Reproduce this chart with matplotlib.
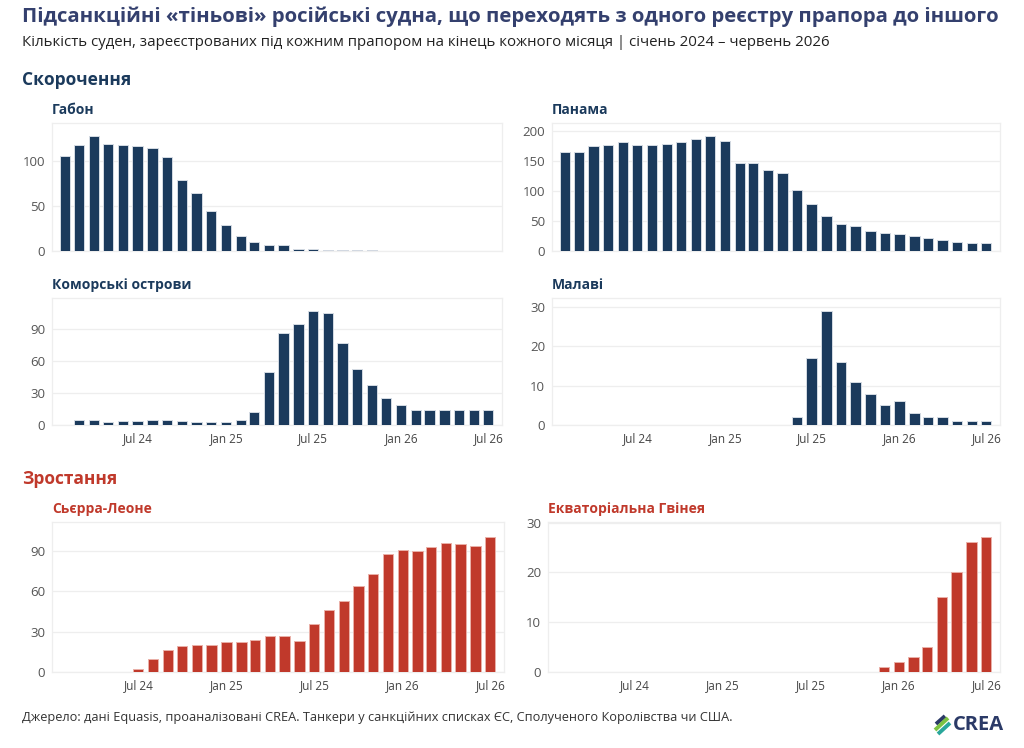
import matplotlib
matplotlib.use("Agg")
import matplotlib.pyplot as plt
from matplotlib.lines import Line2D
import pandas as pd

plt.rcParams['font.family'] = ['Open Sans', 'DejaVu Sans']

# ---------------- data ----------------
months = pd.date_range('2024-01-31', periods=30, freq='ME')  # month-end, Jan 2024 .. Jun 2026

gabon = [105, 117, 127, 118, 117, 116, 114, 104, 78, 64, 44, 29,
         17, 10, 7, 7, 2, 2, 1, 1, 1, 1, 0, 0,
         0, 0, 0, 0, 0, 0]
panama = [165, 165, 175, 178, 182, 178, 178, 179, 182, 187, 192, 184,
          148, 148, 135, 131, 102, 78, 58, 45, 42, 34, 30, 28,
          25, 22, 18, 15, 14, 13]
comoros = [0, 5, 5, 3, 4, 4, 5, 5, 4, 3, 3, 3,
           5, 12, 50, 86, 95, 107, 105, 77, 53, 38, 25, 19,
           14, 14, 14, 14, 14, 14]
malawi = [0, 0, 0, 0, 0, 0, 0, 0, 0, 0, 0, 0,
          0, 0, 0, 0, 2, 17, 29, 16, 11, 8, 5, 6,
          3, 2, 2, 1, 1, 1]
sierra_leone = [0, 0, 0, 0, 0, 2, 10, 16, 19, 20, 20, 22,
                22, 24, 27, 27, 23, 36, 46, 53, 64, 73, 88, 91,
                90, 93, 96, 95, 94, 100]
eq_guinea = [0, 0, 0, 0, 0, 0, 0, 0, 0, 0, 0, 0,
             0, 0, 0, 0, 0, 0, 0, 0, 0, 0, 1, 2,
             3, 5, 15, 20, 26, 27]

yticks_gabon = [0, 50, 100]
yticks_panama = [0, 50, 100, 150, 200]
yticks_comoros = [0, 30, 60, 90]
yticks_malawi = [0, 10, 20, 30]
yticks_sierra = [0, 30, 60, 90]
yticks_eqg = [0, 10, 20, 30]

xtick_dates = pd.to_datetime(['2024-07-01', '2025-01-01', '2025-07-01', '2026-01-01', '2026-07-01'])
xtick_labels = ['Jul 24', 'Jan 25', 'Jul 25', 'Jan 26', 'Jul 26']

title = 'Підсанкційні «тіньові» російські судна, що переходять з одного реєстру прапора до іншого'
subtitle = 'Кількість суден, зареєстрованих під кожним прапором на кінець кожного місяця | січень 2024 – червень 2026'
sec_down = 'Скорочення'
sec_up = 'Зростання'
footer = 'Джерело: дані Equasis, проаналізовані CREA. Танкери у санкційних списках ЄС, Сполученого Королівства чи США.'

NAVY = '#1b3a5c'
RED = '#c0392b'
TITLE_C = '#34406e'

# ---------------- figure ----------------
W, H = 1024, 748
fig = plt.figure(figsize=(W / 100, H / 100), dpi=100)
fig.patch.set_facecolor('white')


def rect(l, t, r, b):
    return [l / W, 1 - b / H, (r - l) / W, (b - t) / H]


def ftext(x, y, s, **kw):
    fig.text(x / W, 1 - y / H, s, **kw)


xlim = (pd.Timestamp('2024-01-04'), pd.Timestamp('2026-07-29'))


def panel(box, values, yticks, color, name, name_xy, show_x):
    ax = fig.add_axes(rect(*box))
    ax.bar(months, values, width=21.5, color=color,
           edgecolor='#d5dbe3' if color == NAVY else '#eab0a8',
           linewidth=0.7, zorder=3)
    ax.set_xlim(*xlim)
    ax.set_ylim(0, max(values) * 1.115)
    ax.set_yticks(yticks)
    ax.yaxis.grid(True, color='#eeeeee', linewidth=0.9, zorder=0)
    ax.xaxis.grid(False)
    for sp in ax.spines.values():
        sp.set_color('#eeeeee')
        sp.set_linewidth(0.9)
    ax.tick_params(axis='both', length=0)
    ax.tick_params(axis='y', labelsize=9.5, labelcolor='#555555', pad=5)
    ax.set_xticks(xtick_dates)
    if show_x:
        ax.set_xticklabels(xtick_labels)
        ax.tick_params(axis='x', labelsize=8.5, labelcolor='#444444', pad=5)
    else:
        ax.set_xticklabels([])
    ftext(name_xy[0], name_xy[1], name, fontsize=10, fontweight='bold', color=color, va='center', ha='left')
    return ax


panel((52, 123, 502, 251), gabon, yticks_gabon, NAVY, 'Габон', (52, 110), False)
panel((552, 123, 1000, 251), panama, yticks_panama, NAVY, 'Панама', (552, 110), False)
panel((52, 298, 502, 425), comoros, yticks_comoros, NAVY, 'Коморські острови', (52, 285), True)
panel((552, 298, 1000, 425), malawi, yticks_malawi, NAVY, 'Малаві', (552, 285), True)
panel((52, 522, 504, 672), sierra_leone, yticks_sierra, RED, 'Сьєрра-Леоне', (52, 509), True)
panel((548, 522, 1000, 672), eq_guinea, yticks_eqg, RED, 'Екваторіальна Гвінея', (548, 509), True)

# headings
ftext(22, 17, title, fontsize=14.65, fontweight='bold', color=TITLE_C, va='center', ha='left')
ftext(22, 43, subtitle, fontsize=10.8, color='#222222', va='center', ha='left')
ftext(22, 80, sec_down, fontsize=12.5, fontweight='bold', color=NAVY, va='center', ha='left')
ftext(22, 479, sec_up, fontsize=12.5, fontweight='bold', color=RED, va='center', ha='left')
ftext(22, 718, footer, fontsize=9.2, color='#333333', va='center', ha='left')

# CREA logo
ftext(953, 725, 'CREA', fontsize=14.5, fontweight='bold', color='#2b3a67', va='center', ha='left')
for (x0, y0, x1, y1, c) in [(936, 724, 945, 716, '#2b3a67'),
                            (935, 730, 948, 718, '#7cc242'),
                            (938, 734, 950, 723, '#2aa79b')]:
    fig.add_artist(Line2D([x0 / W, x1 / W], [1 - y0 / H, 1 - y1 / H], color=c, linewidth=2.8,
                          solid_capstyle='butt', transform=fig.transFigure))

fig.savefig('out.png', dpi=100, facecolor='white')
